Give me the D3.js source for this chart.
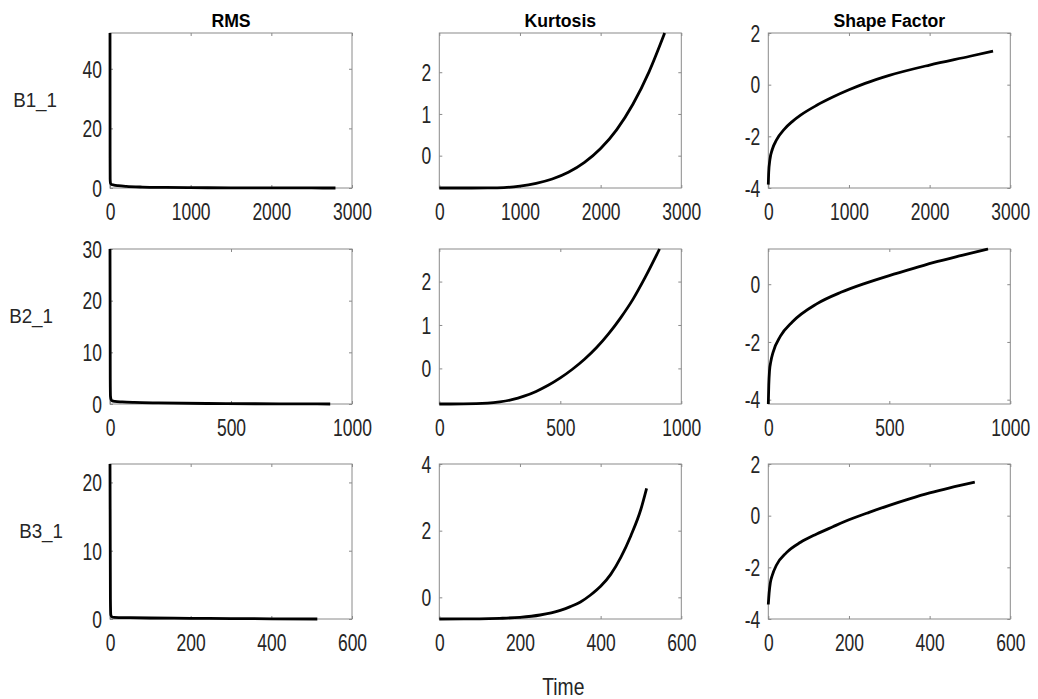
<!DOCTYPE html>
<html>
<head>
<meta charset="utf-8">
<script src="https://cdn.jsdelivr.net/npm/d3@7"></script>
<style>
  html, body { margin: 0; padding: 0; background: #fff; }
  svg { display: block; }
  text { font-family: "Liberation Sans", Arial, Helvetica, sans-serif; }
</style>
</head>
<body>
<svg id="chart" width="1038" height="699"></svg>
<script>
// ---------------- data ----------------
const columnTitles = ["RMS", "Kurtosis", "Shape Factor"];
const rowLabels = ["B1_1", "B2_1", "B3_1"];
const xAxisLabel = "Time";

const xDomains = [[0, 3000], [0, 1000], [0, 600]];
const xTickValues = [[0, 1000, 2000, 3000], [0, 500, 1000], [0, 200, 400, 600]];

// y limits per row (RMS, Kurtosis, Shape Factor)
const yLimitsRow1 = [[0, 52], [-0.775, 2.94], [-4, 2]];
const yLimitsRow2 = [[0, 30], [-0.82, 2.75], [-4.15, 1.22]];
const yLimitsRow3 = [[0, 22.7], [-0.65, 4], [-4, 2]];
const yTicksRow1 = [[0, 20, 40], [0, 1, 2], [-4, -2, 0, 2]];
const yTicksRow2 = [[0, 10, 20, 30], [0, 1, 2], [-4, -2, 0]];
const yTicksRow3 = [[0, 10, 20], [0, 2, 4], [-4, -2, 0, 2]];

// B1_1
const rms1X = [0, 1, 2, 5, 10, 20, 50, 100, 200, 400, 700, 1000, 1500, 2000, 2500, 2795];
const rms1Y = [52, 10, 3, 1.8, 1.4, 1.2, 1.0, 0.8, 0.55, 0.32, 0.2, 0.12, 0.06, 0.03, 0.01, 0];
const kurt1X = [0, 200, 400, 600, 800, 1000, 1200, 1400, 1600, 1800, 2000, 2200, 2400, 2600, 2794];
const kurt1Y = [-0.775, -0.775, -0.775, -0.773, -0.765, -0.73, -0.664, -0.56, -0.399, -0.162, 0.17, 0.625, 1.232, 2.009, 2.94];
const shape1X = [0, 5, 20, 50, 100, 200, 300, 400, 600, 800, 1000, 1200, 1500, 2000, 2500, 2786];
const shape1Y = [-3.87, -3.4, -2.9, -2.5, -2.15, -1.72, -1.42, -1.18, -0.8, -0.48, -0.2, 0.05, 0.36, 0.76, 1.1, 1.3];

// B2_1
const rms2X = [0, 1, 2, 5, 10, 20, 50, 100, 200, 400, 600, 800, 910];
const rms2Y = [30, 5, 1.5, 0.8, 0.6, 0.5, 0.4, 0.3, 0.2, 0.1, 0.05, 0.02, 0];
const kurt2X = [0, 100, 200, 250, 300, 350, 400, 450, 500, 550, 600, 650, 700, 750, 800, 850, 910];
const kurt2Y = [-0.82, -0.818, -0.80, -0.77, -0.72, -0.64, -0.53, -0.39, -0.22, -0.02, 0.21, 0.48, 0.8, 1.17, 1.59, 2.09, 2.75];
const shape2X = [0, 2, 5, 10, 20, 50, 100, 200, 300, 400, 500, 600, 700, 800, 908];
const shape2Y = [-4.15, -3.5, -3.0, -2.7, -2.35, -1.8, -1.3, -0.68, -0.28, 0.03, 0.3, 0.55, 0.79, 1.0, 1.22];

// B3_1
const rms3X = [0, 1, 2, 5, 10, 50, 100, 200, 300, 400, 514];
const rms3Y = [22.7, 3, 0.6, 0.3, 0.25, 0.2, 0.15, 0.1, 0.06, 0.03, 0];
const kurt3X = [0, 100, 150, 200, 250, 300, 325, 350, 375, 400, 425, 450, 475, 500, 514];
const kurt3Y = [-0.65, -0.645, -0.63, -0.6, -0.53, -0.39, -0.28, -0.14, 0.07, 0.33, 0.69, 1.2, 1.85, 2.65, 3.27];
const shape3X = [0, 2, 5, 10, 20, 45, 80, 120, 160, 200, 250, 300, 350, 400, 450, 512];
const shape3Y = [-3.44, -3.0, -2.6, -2.3, -1.92, -1.43, -1.03, -0.71, -0.43, -0.16, 0.13, 0.4, 0.65, 0.88, 1.08, 1.3];

// ---------------- layout ----------------
const colX = [110, 439.3, 768.3];
const rowY = [33, 249, 464];
const panelW = 242, panelH = 155;
const tickLen = 3;
const axisColor = "#8a8a8a";
const labelColor = "#262626";
const tickFont = 23, tickScale = 0.76;
const fmt = d => String(d);

const rows = [
  { label: rowLabels[0], lims: yLimitsRow1, ticks: yTicksRow1,
    series: [[rms1X, rms1Y], [kurt1X, kurt1Y], [shape1X, shape1Y]] },
  { label: rowLabels[1], lims: yLimitsRow2, ticks: yTicksRow2,
    series: [[rms2X, rms2Y], [kurt2X, kurt2Y], [shape2X, shape2Y]] },
  { label: rowLabels[2], lims: yLimitsRow3, ticks: yTicksRow3,
    series: [[rms3X, rms3Y], [kurt3X, kurt3Y], [shape3X, shape3Y]] }
];

const svg = d3.select("#chart");
const rowLabelRight = [57, 53, 63];

rows.forEach((row, r) => {
  row.series.forEach((s, c) => {
    const x = d3.scaleLinear().domain(xDomains[r]).range([0, panelW]);
    const y = d3.scaleLinear().domain(row.lims[c]).range([panelH, 0]);
    const g = svg.append("g").attr("transform", `translate(${colX[c]},${rowY[r]})`);

    g.append("rect").attr("width", panelW).attr("height", panelH)
      .attr("fill", "none").attr("stroke", axisColor).attr("stroke-width", 1);

    const bx = g.append("g").attr("transform", `translate(0,${panelH})`)
      .call(d3.axisBottom(x).tickValues(xTickValues[r]).tickSizeInner(-tickLen).tickSizeOuter(0).tickFormat(fmt));
    const tx = g.append("g")
      .call(d3.axisTop(x).tickValues(xTickValues[r]).tickSizeInner(-tickLen).tickSizeOuter(0).tickFormat(""));
    const ly = g.append("g")
      .call(d3.axisLeft(y).tickValues(row.ticks[c]).tickSizeInner(-tickLen).tickSizeOuter(0).tickFormat(fmt));
    const ry = g.append("g").attr("transform", `translate(${panelW},0)`)
      .call(d3.axisRight(y).tickValues(row.ticks[c]).tickSizeInner(-tickLen).tickSizeOuter(0).tickFormat(""));

    [bx, tx, ly, ry].forEach(a => {
      a.select(".domain").remove();
      a.selectAll(".tick line").attr("stroke", axisColor);
      a.selectAll("text").attr("font-size", tickFont).attr("fill", labelColor)
        .attr("font-family", '"Liberation Sans", Arial, Helvetica, sans-serif');
    });
    bx.selectAll("text").attr("y", 32).attr("dy", null)
      .attr("transform", `scale(${tickScale},1)`);
    ly.selectAll("text").attr("x", -8 / tickScale).attr("dy", "0.36em")
      .attr("transform", `scale(${tickScale},1)`);

    const pts = s[0].map((xv, i) => [xv, s[1][i]]);
    g.append("path").datum(pts)
      .attr("fill", "none").attr("stroke", "#000").attr("stroke-width", 2.8)
      .attr("stroke-linejoin", "round").attr("stroke-linecap", "butt")
      .attr("d", d3.line().x(d => x(d[0])).y(d => y(d[1])).curve(d3.curveMonotoneX));
  });

  svg.append("text")
    .attr("transform", `translate(${rowLabelRight[r]},${rowY[r] + panelH / 2 - 4}) scale(0.94,1)`)
    .attr("text-anchor", "end").attr("font-size", 20).attr("fill", labelColor)
    .text(row.label);
});

columnTitles.forEach((t, c) => {
  svg.append("text")
    .attr("transform", `translate(${colX[c] + panelW / 2},26.5) scale(0.93,1)`)
    .attr("text-anchor", "middle").attr("font-size", 19).attr("font-weight", "bold")
    .attr("fill", "#000").text(t);
});

svg.append("text")
  .attr("transform", `translate(${colX[1] + panelW / 2 + 3},695) scale(0.84,1)`)
  .attr("text-anchor", "middle").attr("font-size", 23).attr("fill", labelColor)
  .text(xAxisLabel);
</script>
</body>
</html>
